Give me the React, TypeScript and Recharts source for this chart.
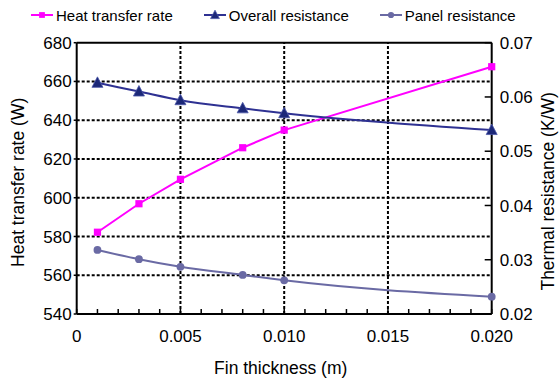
import React from 'react'
import {
  ComposedChart,
  Line,
  XAxis,
  YAxis,
  ReferenceLine,
  Legend,
  Label,
} from 'recharts'

// fin thickness (m) and the three measured series
const thickness = [0.001, 0.003, 0.005, 0.008, 0.01, 0.02]
const heatRate = [582.2, 596.9, 609.5, 625.8, 634.9, 667.6]
const overallRes = [0.0626, 0.061, 0.0594, 0.0579, 0.057, 0.0539]
const panelRes = [0.0318, 0.0301, 0.0287, 0.0272, 0.0262, 0.0232]

const xTicks = [
  0, 0.001, 0.002, 0.003, 0.004, 0.005, 0.006, 0.007, 0.008, 0.009, 0.01,
  0.011, 0.012, 0.013, 0.014, 0.015, 0.016, 0.017, 0.018, 0.019, 0.02,
]
const xMajor = [0, 0.005, 0.01, 0.015, 0.02]
const xLabels = ['0', '0.005', '0.010', '0.015', '0.020']
const leftTicks = [540, 560, 580, 600, 620, 640, 660, 680]
const rightTicks = [0.02, 0.03, 0.04, 0.05, 0.06, 0.07]

const FONT = '"Liberation Sans", Arial, sans-serif'
const HEAT = '#ff00ff'
const OVERALL = '#2e3192'
const OVERALL_FILL = '#1c2878'
const PANEL = '#6a6aa4'

const data = thickness.map((x, i) => ({
  x,
  heat: heatRate[i],
  overall: overallRes[i],
  panel: panelRes[i],
}))

const formatX = (v: number) => {
  const i = xMajor.findIndex((m) => Math.abs(m - v) < 1e-9)
  return i >= 0 ? xLabels[i] : ''
}

function Marker({ kind, cx, cy, s = 1 }: { kind: string; cx: number; cy: number; s?: number }) {
  if (kind === 'square') {
    return <rect x={cx - 3.6 * s} y={cy - 3.6 * s} width={7.2 * s} height={7.2 * s} fill={HEAT} />
  }
  if (kind === 'triangle') {
    return (
      <polygon
        points={`${cx},${cy - 6 * s} ${cx - 5.5 * s},${cy + 4.5 * s} ${cx + 5.5 * s},${cy + 4.5 * s}`}
        fill={OVERALL_FILL}
        stroke="#4a56a8"
        strokeWidth={0.8}
      />
    )
  }
  return <circle cx={cx} cy={cy} r={3.9 * s} fill={PANEL} />
}

const dot = (kind: string) => (props: any) => {
  const { cx, cy, index } = props
  if (cx == null || cy == null) return <g key={`${kind}-${index}`} />
  return <Marker key={`${kind}-${index}`} kind={kind} cx={cx} cy={cy} />
}

const MARKERS: Record<string, string> = {
  heat: 'square',
  overall: 'triangle',
  panel: 'circle',
}

function LegendContent({ payload }: any) {
  return (
    <div
      style={{
        height: 30,
        display: 'flex',
        alignItems: 'center',
        paddingLeft: 31,
        fontSize: 15,
        fontFamily: FONT,
        color: '#000',
      }}
    >
      {(payload ?? []).map((entry: any) => (
        <div
          key={entry.value}
          style={{ display: 'flex', alignItems: 'center', marginRight: 31 }}
        >
          <svg width={22} height={12} style={{ display: 'block' }}>
            <line x1={0} y1={6} x2={22} y2={6} stroke={entry.color} strokeWidth={2} />
            <Marker kind={MARKERS[entry.dataKey]} cx={11} cy={6} s={0.8} />
          </svg>
          <span style={{ marginLeft: 3 }}>{entry.value}</span>
        </div>
      ))}
    </div>
  )
}

const titleStyle = { fontSize: 17.5, fontFamily: FONT, fill: '#000' }

function XTitle(props: any) {
  const vb = props.viewBox ?? { x: 76.7, y: 314, width: 415, height: 40 }
  return (
    <text x={vb.x + vb.width / 2 - 3.5} y={vb.y + vb.height + 19.5} textAnchor="middle" style={titleStyle}>
      Fin thickness (m)
    </text>
  )
}

function LeftTitle(props: any) {
  const vb = props.viewBox ?? { x: 0, y: 42.7, width: 76.7, height: 271.3 }
  const x = vb.x + 24.5
  const y = vb.y + vb.height / 2 + 4
  return (
    <text x={x} y={y} transform={`rotate(-90, ${x}, ${y})`} textAnchor="middle" style={titleStyle}>
      Heat transfer rate (W)
    </text>
  )
}

function RightTitle(props: any) {
  const vb = props.viewBox ?? { x: 491.7, y: 42.7, width: 67.3, height: 271.3 }
  const x = vb.x + 62.5
  const y = vb.y + vb.height / 2 + 13
  return (
    <text x={x} y={y} transform={`rotate(-90, ${x}, ${y})`} textAnchor="middle" style={titleStyle}>
      Thermal resistance (K/W)
    </text>
  )
}

const tickStyle = { fill: '#000', fontSize: 17, fontFamily: FONT }
const axisLine = { stroke: '#000', strokeWidth: 2 }
const tickLine = { stroke: '#000', strokeWidth: 1.5 }
const grid = { stroke: '#000', strokeWidth: 2, strokeDasharray: '3 2' }

export default function App() {
  return (
    <div style={{ position: 'absolute', left: 0, top: 0, background: '#fff', fontFamily: FONT }}>
      <ComposedChart
        width={559}
        height={380}
        data={data}
        margin={{ top: 12.7, right: 0, bottom: 26, left: 0 }}
      >
        <XAxis
          type="number"
          dataKey="x"
          domain={[0, 0.02]}
          ticks={xTicks}
          interval={0}
          tickFormatter={formatX}
          tick={tickStyle}
          tickSize={-5}
          tickMargin={21}
          axisLine={axisLine}
          tickLine={tickLine}
          height={40}
        >
          <Label content={<XTitle />} />
        </XAxis>
        <YAxis
          yAxisId="left"
          domain={[540, 680]}
          ticks={leftTicks}
          interval={0}
          tick={tickStyle}
          tickSize={3}
          tickMargin={2}
          axisLine={axisLine}
          tickLine={tickLine}
          width={76.7}
        >
          <Label content={<LeftTitle />} />
        </YAxis>
        <YAxis
          yAxisId="right"
          orientation="right"
          domain={[0.02, 0.07]}
          ticks={rightTicks}
          interval={0}
          tickFormatter={(v: number) => v.toFixed(2)}
          tick={tickStyle}
          tickSize={-7}
          tickMargin={15}
          axisLine={axisLine}
          tickLine={tickLine}
          width={67.3}
        >
          <Label content={<RightTitle />} />
        </YAxis>

        {leftTicks.slice(1, -1).map((v) => (
          <ReferenceLine key={`h-${v}`} yAxisId="left" y={v} {...grid} />
        ))}
        {xMajor.slice(1, -1).map((v) => (
          <ReferenceLine key={`v-${v}`} yAxisId="left" x={v} {...grid} />
        ))}
        <ReferenceLine yAxisId="left" y={680} stroke="#000" strokeWidth={2} />

        <Legend
          verticalAlign="top"
          height={30}
          wrapperStyle={{ top: 0, left: 0, width: 559 }}
          content={<LegendContent />}
        />

        <Line
          yAxisId="left"
          type="linear"
          dataKey="heat"
          name="Heat transfer rate"
          stroke={HEAT}
          strokeWidth={2}
          dot={dot('square')}
          activeDot={false}
          isAnimationActive={false}
        />
        <Line
          yAxisId="right"
          type="monotone"
          dataKey="overall"
          name="Overall resistance"
          stroke={OVERALL}
          strokeWidth={2}
          dot={dot('triangle')}
          activeDot={false}
          isAnimationActive={false}
        />
        <Line
          yAxisId="right"
          type="monotone"
          dataKey="panel"
          name="Panel resistance"
          stroke={PANEL}
          strokeWidth={2}
          dot={dot('circle')}
          activeDot={false}
          isAnimationActive={false}
        />
      </ComposedChart>
    </div>
  )
}
